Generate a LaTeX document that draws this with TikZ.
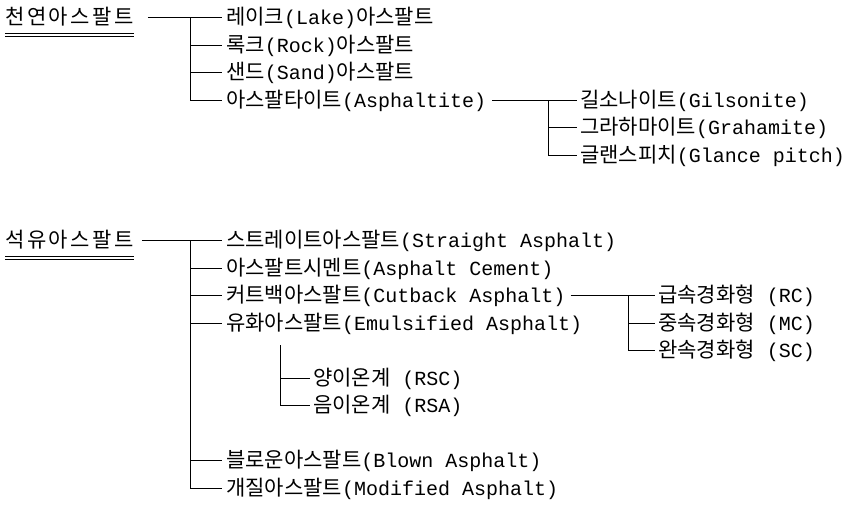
\documentclass[tikz,border=0pt]{standalone}
\usepackage{fontspec}
\setmainfont{Liberation Mono}
\newfontfamily\krfont{Noto Sans CJK KR}
\newfontfamily\krhead[LetterSpace=12]{Noto Sans CJK KR}
\newcommand{\K}[1]{{\krfont\fontsize{21}{24}\selectfont #1}}
\newcommand{\KH}[1]{{\krhead\fontsize{21}{24}\selectfont #1}}
\begin{document}
\begin{tikzpicture}[x=1pt,y=-1pt,
  txt/.style={anchor=west, inner sep=0pt, text height=18pt, text depth=4pt,
    font=\fontsize{20}{24}\selectfont},
  head/.style={txt},
  conn/.style={line width=0.9pt, black}]
\useasboundingbox (0,0) rectangle (846,525);
% ---------- top group ----------
\node[head] (nat) at (5,17) {\KH{천연아스팔트}};
\draw[conn] ([yshift=-5pt]nat.south west) -- ([yshift=-5pt]nat.south east);
\draw[conn] ([yshift=-8pt]nat.south west) -- ([yshift=-8pt]nat.south east);
\node[txt] (lake) at (226,17) {\K{레이크}(Lake)\K{아스팔트}};
\node[txt] (rock) at (226,45) {\K{록크}(Rock)\K{아스팔트}};
\node[txt] (sand) at (226,72) {\K{샌드}(Sand)\K{아스팔트}};
\node[txt] (aspt) at (226,100) {\K{아스팔타이트}(Asphaltite)};
\coordinate (j1) at (190,17);
\draw[conn] ([xshift=14pt]nat.east) -- (j1);
\draw[conn] (j1) -- ([xshift=-4pt]lake.west);
\draw[conn] (j1) |- ([xshift=-4pt]rock.west);
\draw[conn] (j1) |- ([xshift=-4pt]sand.west);
\draw[conn] (j1) |- ([xshift=-4pt]aspt.west);
\node[txt] (gil) at (580,100) {\K{길소나이트}(Gilsonite)};
\node[txt] (gra) at (580,127) {\K{그라하마이트}(Grahamite)};
\node[txt] (gla) at (580,155) {\K{글랜스피치}(Glance pitch)};
\coordinate (j5) at (548,100);
\draw[conn] ([xshift=6pt]aspt.east) -- (j5);
\draw[conn] (j5) -- ([xshift=-3pt]gil.west);
\draw[conn] (j5) |- ([xshift=-3pt]gra.west);
\draw[conn] (j5) |- ([xshift=-3pt]gla.west);
% ---------- bottom group ----------
\node[head] (pet) at (5,240) {\KH{석유아스팔트}};
\draw[conn] ([yshift=-5pt]pet.south west) -- ([yshift=-5pt]pet.south east);
\draw[conn] ([yshift=-8pt]pet.south west) -- ([yshift=-8pt]pet.south east);
\node[txt] (str) at (226,240) {\K{스트레이트아스팔트}(Straight Asphalt)};
\node[txt] (cem) at (226,268) {\K{아스팔트시멘트}(Asphalt Cement)};
\node[txt] (cut) at (226,295) {\K{커트백아스팔트}(Cutback Asphalt)};
\node[txt] (emu) at (226,323) {\K{유화아스팔트}(Emulsified Asphalt)};
\node[txt] (blo) at (226,460) {\K{블로운아스팔트}(Blown Asphalt)};
\node[txt] (mod) at (226,488) {\K{개질아스팔트}(Modified Asphalt)};
\coordinate (j2) at (190,240);
\draw[conn] ([xshift=8pt]pet.east) -- (j2);
\draw[conn] (j2) -- ([xshift=-4pt]str.west);
\draw[conn] (j2) |- ([xshift=-4pt]cem.west);
\draw[conn] (j2) |- ([xshift=-4pt]cut.west);
\draw[conn] (j2) |- ([xshift=-4pt]emu.west);
\draw[conn] (j2) |- ([xshift=-4pt]blo.west);
\draw[conn] (j2) |- ([xshift=-4pt]mod.west);
% emulsified sub-branch
\node[txt] (rsc) at (313,378) {\K{양이온계} (RSC)};
\node[txt] (rsa) at (313,405) {\K{음이온계} (RSA)};
\coordinate (j3) at (280,345);
\draw[conn] (j3) |- ([xshift=-3pt]rsc.west);
\draw[conn] (j3) |- ([xshift=-3pt]rsa.west);
% cutback sub-branch
\node[txt] (rc) at (658,295) {\K{급속경화형} (RC)};
\node[txt] (mc) at (658,323) {\K{중속경화형} (MC)};
\node[txt] (sc) at (658,350) {\K{완속경화형} (SC)};
\coordinate (j4) at (628,295);
\draw[conn] ([xshift=5pt]cut.east) -- (j4);
\draw[conn] (j4) -- ([xshift=-3pt]rc.west);
\draw[conn] (j4) |- ([xshift=-3pt]mc.west);
\draw[conn] (j4) |- ([xshift=-3pt]sc.west);
\end{tikzpicture}
\end{document}
